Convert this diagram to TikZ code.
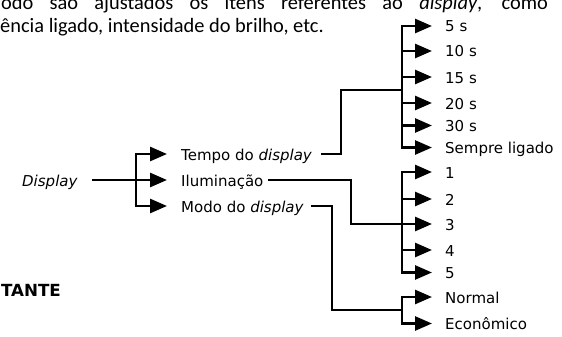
\documentclass[tikz,border=0pt]{standalone}
\usepackage{fontspec}
\setmainfont{DejaVu Sans}
\newfontfamily\bodyfont{Carlito}
\usetikzlibrary{arrows.meta, positioning}
\tikzset{
    line/.style={line width=2.7pt, line cap=rect, line join=miter},
    arr/.style={line, -{Triangle[length=17pt, width=14pt]}},
    item/.style={anchor=west, inner sep=0pt, text height=12pt, text depth=0pt, font=\fontsize{15}{18}\selectfont},
    body/.style={inner sep=0pt, font=\bodyfont\fontsize{20.4}{24}\selectfont}
}

\begin{document}
\begin{tikzpicture}[x=1pt, y=-1pt]
    \useasboundingbox (0,0) rectangle (562,337);
    \clip (0,0) rectangle (562,337);

    % Page text around the diagram
    \node (line1) [body, anchor=base east] at (548,10) {\makebox[563pt][s]{modo são ajustados os itens referentes ao \textit{display}, como}};
    \node (line2) [body, anchor=base west] at (0,33) {ência ligado, intensidade do brilho, etc.};
    \node (head) [inner sep=0pt, anchor=base east, font=\fontsize{16.7}{20}\selectfont\bfseries] at (61,296) {TANTE};

    % Root and first level
    \node (disp)  [item] at (22,180)  {\textit{Display}};
    \node (tempo) [item] at (181,154) {Tempo do \textit{display}};
    \node (ilum)  [item] at (181,180) {Iluminação};
    \node (modo)  [item] at (181,206) {Modo do \textit{display}};

    % Tempo do display options
    \node (s5)     [item] at (445,26)    {5 s};
    \node (s10)    [item] at (445,51)    {10 s};
    \node (s15)    [item] at (445,77)    {15 s};
    \node (s20)    [item] at (445,103)   {20 s};
    \node (s30)    [item] at (445,125.5) {30 s};
    \node (sempre) [item] at (445,147.5) {Sempre ligado};

    % Iluminacao options
    \node (i1) [item] at (445,172)   {1};
    \node (i2) [item] at (445,199)   {2};
    \node (i3) [item] at (445,224)   {3};
    \node (i4) [item] at (445,250)   {4};
    \node (i5) [item] at (445,272.5) {5};

    % Modo do display options
    \node (normal) [item] at (445,297)   {Normal};
    \node (econ)   [item] at (445,323.5) {Econômico};

    % Bars and junctions
    \coordinate (b1) at (136,0);
    \coordinate (b2) at (402,0);
    \coordinate (j1) at (341,90);
    \coordinate (j2) at (351,224);
    \coordinate (j3) at (332,310);

    % Root branch
    \draw [line] ([xshift=15pt]disp.east) -- (b1 |- disp.east);
    \draw [line] (b1 |- tempo.west) -- (b1 |- modo.west);
    \foreach \n in {tempo, ilum, modo}
        \draw [arr] (b1 |- \n.west) -- ([xshift=-14pt]\n.west);

    % Tempo do display branch
    \draw [line] ([xshift=10pt]tempo.east) -| (j1) -- (b2 |- j1);
    \draw [line] (b2 |- s5.west) -- (b2 |- sempre.west);
    \foreach \n in {s5, s10, s15, s20, s30, sempre}
        \draw [arr] (b2 |- \n.west) -- ([xshift=-13pt]\n.west);

    % Iluminacao branch
    \draw [line] ([xshift=6pt]ilum.east) -| (j2) -- (b2 |- j2);
    \draw [line] (b2 |- i1.west) -- (b2 |- i5.west);
    \foreach \n in {i1, i2, i3, i4, i5}
        \draw [arr] (b2 |- \n.west) -- ([xshift=-13pt]\n.west);

    % Modo do display branch
    \draw [line] ([xshift=8pt]modo.east) -| (j3) -- (b2 |- j3);
    \draw [line] (b2 |- normal.west) -- (b2 |- econ.west);
    \foreach \n in {normal, econ}
        \draw [arr] (b2 |- \n.west) -- ([xshift=-13pt]\n.west);

\end{tikzpicture}
\end{document}
